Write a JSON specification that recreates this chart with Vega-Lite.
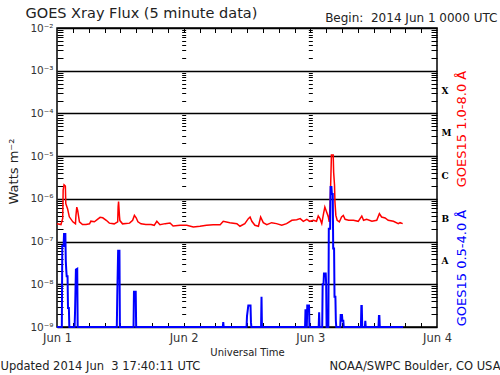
{
  "$schema": "https://vega.github.io/schema/vega-lite/v6.json",
  "width": 380,
  "height": 299,
  "autosize": {"type": "none"},
  "padding": {"left": 57, "top": 28, "right": 63, "bottom": 48},
  "background": "white",
  "config": {
    "view": {"stroke": "black", "strokeWidth": 1.5},
    "axis": {"labelFont": "DejaVu Sans", "titleFont": "DejaVu Sans", "titleFontWeight": "normal", "domainColor": "black", "tickColor": "black", "gridColor": "black", "labelColor": "#333", "titleColor": "#222", "labelFlush": false, "labelOverlap": false}
  },
  "datasets": {
    "red": [
      {"time":"2014-06-01T00:00Z","flux":2.6e-7},{"time":"2014-06-01T00:45Z","flux":2.5e-7},{"time":"2014-06-01T01:05Z","flux":3.5e-7},{"time":"2014-06-01T01:10Z","flux":1.6e-6},{"time":"2014-06-01T01:20Z","flux":2.14e-6},{"time":"2014-06-01T01:35Z","flux":2.0e-6},{"time":"2014-06-01T01:40Z","flux":7.7e-7},{"time":"2014-06-01T02:00Z","flux":5.9e-7},{"time":"2014-06-01T02:20Z","flux":3.8e-7},{"time":"2014-06-01T03:00Z","flux":2.9e-7},{"time":"2014-06-01T03:30Z","flux":2.6e-7},{"time":"2014-06-01T03:35Z","flux":4.0e-7},{"time":"2014-06-01T03:45Z","flux":6.4e-7},{"time":"2014-06-01T03:55Z","flux":5.4e-7},{"time":"2014-06-01T04:15Z","flux":2.9e-7},{"time":"2014-06-01T04:50Z","flux":2.5e-7},{"time":"2014-06-01T05:30Z","flux":2.5e-7},{"time":"2014-06-01T06:10Z","flux":2.6e-7},{"time":"2014-06-01T06:25Z","flux":3.0e-7},{"time":"2014-06-01T07:05Z","flux":2.9e-7},{"time":"2014-06-01T07:40Z","flux":3.3e-7},{"time":"2014-06-01T08:10Z","flux":3.7e-7},{"time":"2014-06-01T08:40Z","flux":3.6e-7},{"time":"2014-06-01T09:20Z","flux":3.15e-7},{"time":"2014-06-01T09:55Z","flux":2.7e-7},{"time":"2014-06-01T10:50Z","flux":2.6e-7},{"time":"2014-06-01T11:30Z","flux":2.9e-7},{"time":"2014-06-01T11:35Z","flux":6.5e-7},{"time":"2014-06-01T11:40Z","flux":8.7e-7},{"time":"2014-06-01T11:50Z","flux":4.0e-7},{"time":"2014-06-01T11:55Z","flux":3.1e-7},{"time":"2014-06-01T12:25Z","flux":2.6e-7},{"time":"2014-06-01T13:45Z","flux":2.7e-7},{"time":"2014-06-01T14:20Z","flux":3.15e-7},{"time":"2014-06-01T14:40Z","flux":4.1e-7},{"time":"2014-06-01T15:00Z","flux":3.6e-7},{"time":"2014-06-01T15:20Z","flux":2.9e-7},{"time":"2014-06-01T15:55Z","flux":2.6e-7},{"time":"2014-06-01T16:50Z","flux":2.5e-7},{"time":"2014-06-01T17:50Z","flux":2.5e-7},{"time":"2014-06-01T18:25Z","flux":2.4e-7},{"time":"2014-06-01T18:55Z","flux":2.98e-7},{"time":"2014-06-01T19:30Z","flux":2.49e-7},{"time":"2014-06-01T20:30Z","flux":2.63e-7},{"time":"2014-06-01T21:25Z","flux":2.72e-7},{"time":"2014-06-01T22:00Z","flux":2.32e-7},{"time":"2014-06-01T23:20Z","flux":2.4e-7},
      {"time":"2014-06-02T00:35Z","flux":2.4e-7},{"time":"2014-06-02T01:50Z","flux":2.2e-7},{"time":"2014-06-02T03:05Z","flux":2.28e-7},{"time":"2014-06-02T04:20Z","flux":2.4e-7},{"time":"2014-06-02T05:35Z","flux":2.49e-7},{"time":"2014-06-02T06:55Z","flux":2.49e-7},{"time":"2014-06-02T07:30Z","flux":2.98e-7},{"time":"2014-06-02T08:45Z","flux":2.77e-7},{"time":"2014-06-02T10:05Z","flux":2.63e-7},{"time":"2014-06-02T10:40Z","flux":2.28e-7},{"time":"2014-06-02T11:35Z","flux":2.63e-7},{"time":"2014-06-02T12:15Z","flux":3.44e-7},{"time":"2014-06-02T12:35Z","flux":3.76e-7},{"time":"2014-06-02T12:55Z","flux":2.98e-7},{"time":"2014-06-02T13:30Z","flux":2.4e-7},{"time":"2014-06-02T14:10Z","flux":2.28e-7},{"time":"2014-06-02T14:35Z","flux":3.76e-7},{"time":"2014-06-02T15:05Z","flux":2.77e-7},{"time":"2014-06-02T15:45Z","flux":2.49e-7},{"time":"2014-06-02T16:40Z","flux":2.77e-7},{"time":"2014-06-02T17:35Z","flux":2.63e-7},{"time":"2014-06-02T18:35Z","flux":2.4e-7},{"time":"2014-06-02T19:30Z","flux":2.63e-7},{"time":"2014-06-02T20:30Z","flux":3.15e-7},{"time":"2014-06-02T21:25Z","flux":3.26e-7},{"time":"2014-06-02T22:05Z","flux":3.44e-7},{"time":"2014-06-02T22:40Z","flux":2.98e-7},{"time":"2014-06-02T23:20Z","flux":3.32e-7},{"time":"2014-06-02T23:55Z","flux":2.98e-7},
      {"time":"2014-06-03T00:35Z","flux":3.15e-7},{"time":"2014-06-03T01:10Z","flux":2.98e-7},{"time":"2014-06-03T01:30Z","flux":3.97e-7},{"time":"2014-06-03T01:50Z","flux":3.44e-7},{"time":"2014-06-03T02:10Z","flux":2.63e-7},{"time":"2014-06-03T02:30Z","flux":4.5e-7},{"time":"2014-06-03T02:45Z","flux":6.44e-7},{"time":"2014-06-03T03:05Z","flux":4.92e-7},{"time":"2014-06-03T03:25Z","flux":3.76e-7},{"time":"2014-06-03T03:35Z","flux":2.88e-7},{"time":"2014-06-03T03:45Z","flux":7.7e-7},{"time":"2014-06-03T03:50Z","flux":1.73e-6},{"time":"2014-06-03T04:00Z","flux":1.07e-5},{"time":"2014-06-03T04:20Z","flux":1.07e-5},{"time":"2014-06-03T04:25Z","flux":4.2e-6},{"time":"2014-06-03T04:35Z","flux":2.07e-6},{"time":"2014-06-03T04:40Z","flux":8.4e-7},{"time":"2014-06-03T04:50Z","flux":4.1e-7},{"time":"2014-06-03T05:05Z","flux":3.15e-7},{"time":"2014-06-03T05:30Z","flux":2.88e-7},{"time":"2014-06-03T05:55Z","flux":3.76e-7},{"time":"2014-06-03T06:15Z","flux":4.1e-7},{"time":"2014-06-03T06:35Z","flux":3.32e-7},{"time":"2014-06-03T07:15Z","flux":3.15e-7},{"time":"2014-06-03T08:10Z","flux":3.15e-7},{"time":"2014-06-03T09:05Z","flux":2.98e-7},{"time":"2014-06-03T09:45Z","flux":3.97e-7},{"time":"2014-06-03T10:05Z","flux":3.15e-7},{"time":"2014-06-03T10:40Z","flux":3.32e-7},{"time":"2014-06-03T11:40Z","flux":2.98e-7},{"time":"2014-06-03T12:35Z","flux":3.15e-7},{"time":"2014-06-03T13:05Z","flux":4.5e-7},{"time":"2014-06-03T13:30Z","flux":3.76e-7},{"time":"2014-06-03T14:10Z","flux":3.57e-7},{"time":"2014-06-03T14:45Z","flux":3.15e-7},{"time":"2014-06-03T15:45Z","flux":2.98e-7},{"time":"2014-06-03T16:40Z","flux":2.63e-7},{"time":"2014-06-03T17:00Z","flux":2.77e-7},{"time":"2014-06-03T17:30Z","flux":2.63e-7}
    ],
    "blue": [
      {"time":"2014-06-01T00:00Z","flux":1e-9},{"time":"2014-06-01T00:55Z","flux":1e-9},{"time":"2014-06-01T01:00Z","flux":7.9e-8},{"time":"2014-06-01T01:15Z","flux":7.9e-8},{"time":"2014-06-01T01:20Z","flux":1.5e-7},{"time":"2014-06-01T01:35Z","flux":1.5e-7},{"time":"2014-06-01T01:40Z","flux":3.5e-8},{"time":"2014-06-01T01:45Z","flux":2.2e-8},{"time":"2014-06-01T01:50Z","flux":1.55e-8},{"time":"2014-06-01T02:00Z","flux":1.55e-8},{"time":"2014-06-01T02:05Z","flux":2.8e-9},{"time":"2014-06-01T02:15Z","flux":2.8e-9},{"time":"2014-06-01T02:20Z","flux":1e-9},{"time":"2014-06-01T03:20Z","flux":1e-9},{"time":"2014-06-01T03:25Z","flux":2.2e-9},{"time":"2014-06-01T03:35Z","flux":2.2e-8},{"time":"2014-06-01T03:50Z","flux":2.3e-8},{"time":"2014-06-01T03:55Z","flux":1e-9},{"time":"2014-06-01T11:20Z","flux":1e-9},{"time":"2014-06-01T11:25Z","flux":5.1e-9},{"time":"2014-06-01T11:35Z","flux":6.1e-8},{"time":"2014-06-01T11:50Z","flux":6.1e-8},{"time":"2014-06-01T11:55Z","flux":1e-9},{"time":"2014-06-01T14:30Z","flux":1e-9},{"time":"2014-06-01T14:35Z","flux":6.7e-9},{"time":"2014-06-01T14:55Z","flux":6.7e-9},{"time":"2014-06-01T15:00Z","flux":1e-9},
      {"time":"2014-06-02T07:25Z","flux":1e-9},{"time":"2014-06-02T07:30Z","flux":1.3e-9},{"time":"2014-06-02T07:35Z","flux":1e-9},{"time":"2014-06-02T11:55Z","flux":1e-9},{"time":"2014-06-02T12:00Z","flux":1.8e-9},{"time":"2014-06-02T12:15Z","flux":3.2e-9},{"time":"2014-06-02T12:40Z","flux":3.2e-9},{"time":"2014-06-02T12:45Z","flux":1.3e-9},{"time":"2014-06-02T12:50Z","flux":1e-9},{"time":"2014-06-02T14:40Z","flux":1e-9},{"time":"2014-06-02T14:45Z","flux":5.1e-9},{"time":"2014-06-02T14:50Z","flux":1e-9},{"time":"2014-06-02T23:00Z","flux":1e-9},{"time":"2014-06-02T23:05Z","flux":2.6e-9},{"time":"2014-06-02T23:10Z","flux":1e-9},{"time":"2014-06-02T23:20Z","flux":1e-9},{"time":"2014-06-02T23:25Z","flux":3.2e-9},{"time":"2014-06-02T23:45Z","flux":3.2e-9},{"time":"2014-06-02T23:50Z","flux":1e-9},
      {"time":"2014-06-03T01:35Z","flux":1e-9},{"time":"2014-06-03T01:40Z","flux":2.2e-9},{"time":"2014-06-03T01:45Z","flux":1e-9},{"time":"2014-06-03T02:15Z","flux":1e-9},{"time":"2014-06-03T02:20Z","flux":1.0e-8},{"time":"2014-06-03T02:30Z","flux":1.0e-8},{"time":"2014-06-03T02:35Z","flux":1.8e-8},{"time":"2014-06-03T02:55Z","flux":1.8e-8},{"time":"2014-06-03T03:00Z","flux":1.0e-8},{"time":"2014-06-03T03:05Z","flux":1e-9},{"time":"2014-06-03T03:25Z","flux":1e-9},{"time":"2014-06-03T03:30Z","flux":2.0e-7},{"time":"2014-06-03T03:45Z","flux":2.0e-7},{"time":"2014-06-03T03:50Z","flux":1.9e-6},{"time":"2014-06-03T04:00Z","flux":1.9e-6},{"time":"2014-06-03T04:05Z","flux":1.3e-6},{"time":"2014-06-03T04:15Z","flux":1.3e-6},{"time":"2014-06-03T04:20Z","flux":6.9e-8},{"time":"2014-06-03T04:30Z","flux":6.9e-8},{"time":"2014-06-03T04:35Z","flux":5.1e-9},{"time":"2014-06-03T04:45Z","flux":5.1e-9},{"time":"2014-06-03T04:50Z","flux":1.4e-9},{"time":"2014-06-03T04:55Z","flux":1e-9},{"time":"2014-06-03T05:40Z","flux":1e-9},{"time":"2014-06-03T05:45Z","flux":1.9e-9},{"time":"2014-06-03T06:00Z","flux":1.9e-9},{"time":"2014-06-03T06:05Z","flux":1.4e-9},{"time":"2014-06-03T06:15Z","flux":1.4e-9},{"time":"2014-06-03T06:20Z","flux":1e-9},{"time":"2014-06-03T09:35Z","flux":1e-9},{"time":"2014-06-03T09:40Z","flux":3.1e-9},{"time":"2014-06-03T09:45Z","flux":3.1e-9},{"time":"2014-06-03T09:50Z","flux":1e-9},{"time":"2014-06-03T10:20Z","flux":1e-9},{"time":"2014-06-03T10:25Z","flux":1.4e-9},{"time":"2014-06-03T10:30Z","flux":1e-9},{"time":"2014-06-03T12:55Z","flux":1e-9},{"time":"2014-06-03T13:00Z","flux":1.8e-9},{"time":"2014-06-03T13:05Z","flux":1.8e-9},{"time":"2014-06-03T13:10Z","flux":1e-9},{"time":"2014-06-03T17:35Z","flux":1e-9}
    ]
  },
  "layer": [
    {
      "data": {"name": "red"},
      "mark": {"type": "line", "color": "#ff0000", "strokeWidth": 1.5},
      "encoding": {
        "x": {"field": "time", "type": "temporal", "scale": {"type": "utc", "domain": [1401580800000, 1401840000000]},
          "axis": {"orient": "bottom", "values": [1401580800000, 1401667200000, 1401753600000, 1401840000000], "format": "%b %-d", "ticks": false, "domain": false, "grid": false, "labelFontSize": 11.5, "labelPadding": 5, "title": "Universal Time", "titleFontSize": 10, "titleY": 28, "titleBaseline": "alphabetic"}},
        "y": {"field": "flux", "type": "quantitative", "scale": {"type": "log", "domain": [1e-9, 1e-2], "nice": false},
          "axis": {"orient": "left", "values": [1e-9, 1e-8, 1e-7, 1e-6, 1e-5, 1e-4, 1e-3, 1e-2], "labelExpr": "'10⁻' + ['⁰','¹','²','³','⁴','⁵','⁶','⁷','⁸','⁹'][round(-log(datum.value)/LN10)]", "ticks": false, "domain": false, "grid": true, "gridWidth": 1.5, "gridOpacity": 1, "labelFontSize": 10.5, "labelPadding": 4, "title": "Watts m⁻²", "titleFontSize": 13, "titleAngle": 270, "titleX": -44, "titleY": 143, "titleAlign": "center", "titleBaseline": "middle"}}
      }
    },
    {
      "data": {"name": "blue"},
      "mark": {"type": "line", "color": "#0000ff", "strokeWidth": 2},
      "encoding": {
        "x": {"field": "time", "type": "temporal", "scale": {"type": "utc", "domain": [1401580800000, 1401840000000]},
          "axis": {"orient": "top", "offset": -299, "values": [1401591600000, 1401602400000, 1401613200000, 1401624000000, 1401634800000, 1401645600000, 1401656400000, 1401667200000, 1401678000000, 1401688800000, 1401699600000, 1401710400000, 1401721200000, 1401732000000, 1401742800000, 1401753600000, 1401764400000, 1401775200000, 1401786000000, 1401796800000, 1401807600000, 1401818400000, 1401829200000], "ticks": true, "tickSize": 4.5, "labels": false, "domain": false, "grid": false, "title": null}},
        "y": {"field": "flux", "type": "quantitative", "scale": {"type": "log", "domain": [1e-9, 1e-2], "nice": false},
          "axis": {"orient": "right", "offset": -380, "values": [2e-9,3e-9,4e-9,5e-9,6e-9,7e-9,8e-9,9e-9,2e-8,3e-8,4e-8,5e-8,6e-8,7e-8,8e-8,9e-8,2e-7,3e-7,4e-7,5e-7,6e-7,7e-7,8e-7,9e-7,2e-6,3e-6,4e-6,5e-6,6e-6,7e-6,8e-6,9e-6,2e-5,3e-5,4e-5,5e-5,6e-5,7e-5,8e-5,9e-5,2e-4,3e-4,4e-4,5e-4,6e-4,7e-4,8e-4,9e-4,2e-3,3e-3,4e-3,5e-3,6e-3,7e-3,8e-3,9e-3], "ticks": true, "tickSize": 6, "labels": false, "domain": false, "grid": false, "title": null}}
      }
    },
    {
      "data": {"name": "red"},
      "mark": {"type": "line", "opacity": 0},
      "encoding": {
        "x": {"field": "time", "type": "temporal", "scale": {"type": "utc", "domain": [1401580800000, 1401840000000]},
          "axis": {"orient": "bottom", "offset": -299, "values": [1401591600000, 1401602400000, 1401613200000, 1401624000000, 1401634800000, 1401645600000, 1401656400000, 1401667200000, 1401678000000, 1401688800000, 1401699600000, 1401710400000, 1401721200000, 1401732000000, 1401742800000, 1401753600000, 1401764400000, 1401775200000, 1401786000000, 1401796800000, 1401807600000, 1401818400000, 1401829200000], "ticks": true, "tickSize": 4.5, "labels": false, "domain": false, "grid": false, "title": null}},
        "y": {"field": "flux", "type": "quantitative", "scale": {"type": "log", "domain": [1e-9, 1e-2], "nice": false},
          "axis": {"orient": "left", "offset": -380, "values": [2e-9,3e-9,4e-9,5e-9,6e-9,7e-9,8e-9,9e-9,2e-8,3e-8,4e-8,5e-8,6e-8,7e-8,8e-8,9e-8,2e-7,3e-7,4e-7,5e-7,6e-7,7e-7,8e-7,9e-7,2e-6,3e-6,4e-6,5e-6,6e-6,7e-6,8e-6,9e-6,2e-5,3e-5,4e-5,5e-5,6e-5,7e-5,8e-5,9e-5,2e-4,3e-4,4e-4,5e-4,6e-4,7e-4,8e-4,9e-4,2e-3,3e-3,4e-3,5e-3,6e-3,7e-3,8e-3,9e-3], "ticks": true, "tickSize": 6, "labels": false, "domain": false, "grid": false, "title": null}}
      }
    },
    {
      "data": {"name": "red"},
      "mark": {"type": "line", "opacity": 0},
      "encoding": {
        "x": {"field": "time", "type": "temporal", "scale": {"type": "utc", "domain": [1401580800000, 1401840000000]},
          "axis": {"orient": "top", "ticks": false, "labels": false, "domain": false, "grid": false, "title": "GOES Xray Flux (5 minute data)", "titleFontSize": 14.5, "titleX": -32, "titleY": -11, "titleAlign": "left", "titleBaseline": "alphabetic"}},
        "y": {"field": "flux", "type": "quantitative", "scale": {"type": "log", "domain": [1e-9, 1e-2], "nice": false},
          "axis": {"orient": "right", "values": [3.1623e-4, 3.1623e-5, 3.1623e-6, 3.1623e-7, 3.1623e-8], "labelExpr": "['','','','X','M','C','B','A'][round(-log(datum.value)/LN10 - 0.5)]", "ticks": false, "domain": false, "grid": false, "labelFont": "DejaVu Serif", "labelFontWeight": "bold", "labelFontSize": 9, "labelColor": "black", "labelPadding": 4, "labelOffset": -2, "title": "GOES15 1.0-8.0 Å", "titleColor": "#ff0000", "titleFontSize": 13, "titleAngle": 270, "titleX": 24, "titleY": 100.5, "titleAlign": "center", "titleBaseline": "middle"}}
      }
    },
    {
      "data": {"name": "red"},
      "mark": {"type": "line", "opacity": 0},
      "encoding": {
        "x": {"field": "time", "type": "temporal", "scale": {"type": "utc", "domain": [1401580800000, 1401840000000]},
          "axis": {"orient": "top", "ticks": false, "labels": false, "domain": false, "grid": false, "title": "Begin:\u00a0\u00a02014 Jun 1 0000 UTC", "titleFontSize": 12, "titleX": 440, "titleY": -7, "titleAlign": "right", "titleBaseline": "alphabetic"}},
        "y": {"field": "flux", "type": "quantitative", "scale": {"type": "log", "domain": [1e-9, 1e-2], "nice": false},
          "axis": {"orient": "right", "ticks": false, "labels": false, "domain": false, "grid": false, "title": "GOES15 0.5-4.0 Å", "titleColor": "#0000ff", "titleFontSize": 13, "titleAngle": 270, "titleX": 24, "titleY": 239.5, "titleAlign": "center", "titleBaseline": "middle"}}
      }
    },
    {
      "data": {"name": "red"},
      "mark": {"type": "line", "opacity": 0},
      "encoding": {
        "x": {"field": "time", "type": "temporal", "scale": {"type": "utc", "domain": [1401580800000, 1401840000000]},
          "axis": {"orient": "bottom", "ticks": false, "labels": false, "domain": false, "grid": false, "title": "Updated 2014 Jun\u00a0\u00a03 17:40:11 UTC", "titleFontSize": 11.5, "titleX": -57, "titleY": 42.5, "titleAlign": "left", "titleBaseline": "alphabetic"}},
        "y": {"field": "flux", "type": "quantitative", "scale": {"type": "log", "domain": [1e-9, 1e-2], "nice": false},
          "axis": {"orient": "left", "offset": -128.67, "values": [2e-9,3e-9,4e-9,5e-9,6e-9,7e-9,8e-9,9e-9,2e-8,3e-8,4e-8,5e-8,6e-8,7e-8,8e-8,9e-8,2e-7,3e-7,4e-7,5e-7,6e-7,7e-7,8e-7,9e-7,2e-6,3e-6,4e-6,5e-6,6e-6,7e-6,8e-6,9e-6,2e-5,3e-5,4e-5,5e-5,6e-5,7e-5,8e-5,9e-5,2e-4,3e-4,4e-4,5e-4,6e-4,7e-4,8e-4,9e-4,2e-3,3e-3,4e-3,5e-3,6e-3,7e-3,8e-3,9e-3], "ticks": true, "tickSize": 4, "labels": false, "domain": false, "grid": false, "title": null}}
      }
    },
    {
      "data": {"name": "red"},
      "mark": {"type": "line", "opacity": 0},
      "encoding": {
        "x": {"field": "time", "type": "temporal", "scale": {"type": "utc", "domain": [1401580800000, 1401840000000]},
          "axis": {"orient": "bottom", "ticks": false, "labels": false, "domain": false, "grid": false, "title": "NOAA/SWPC Boulder, CO USA", "titleFontSize": 11.5, "titleX": 443, "titleY": 42.5, "titleAlign": "right", "titleBaseline": "alphabetic"}},
        "y": {"field": "flux", "type": "quantitative", "scale": {"type": "log", "domain": [1e-9, 1e-2], "nice": false},
          "axis": {"orient": "left", "offset": -255.33, "values": [2e-9,3e-9,4e-9,5e-9,6e-9,7e-9,8e-9,9e-9,2e-8,3e-8,4e-8,5e-8,6e-8,7e-8,8e-8,9e-8,2e-7,3e-7,4e-7,5e-7,6e-7,7e-7,8e-7,9e-7,2e-6,3e-6,4e-6,5e-6,6e-6,7e-6,8e-6,9e-6,2e-5,3e-5,4e-5,5e-5,6e-5,7e-5,8e-5,9e-5,2e-4,3e-4,4e-4,5e-4,6e-4,7e-4,8e-4,9e-4,2e-3,3e-3,4e-3,5e-3,6e-3,7e-3,8e-3,9e-3], "ticks": true, "tickSize": 4, "labels": false, "domain": false, "grid": false, "title": null}}
      }
    }
  ],
  "resolve": {"scale": {"x": "shared", "y": "shared"}, "axis": {"x": "independent", "y": "independent"}}
}
